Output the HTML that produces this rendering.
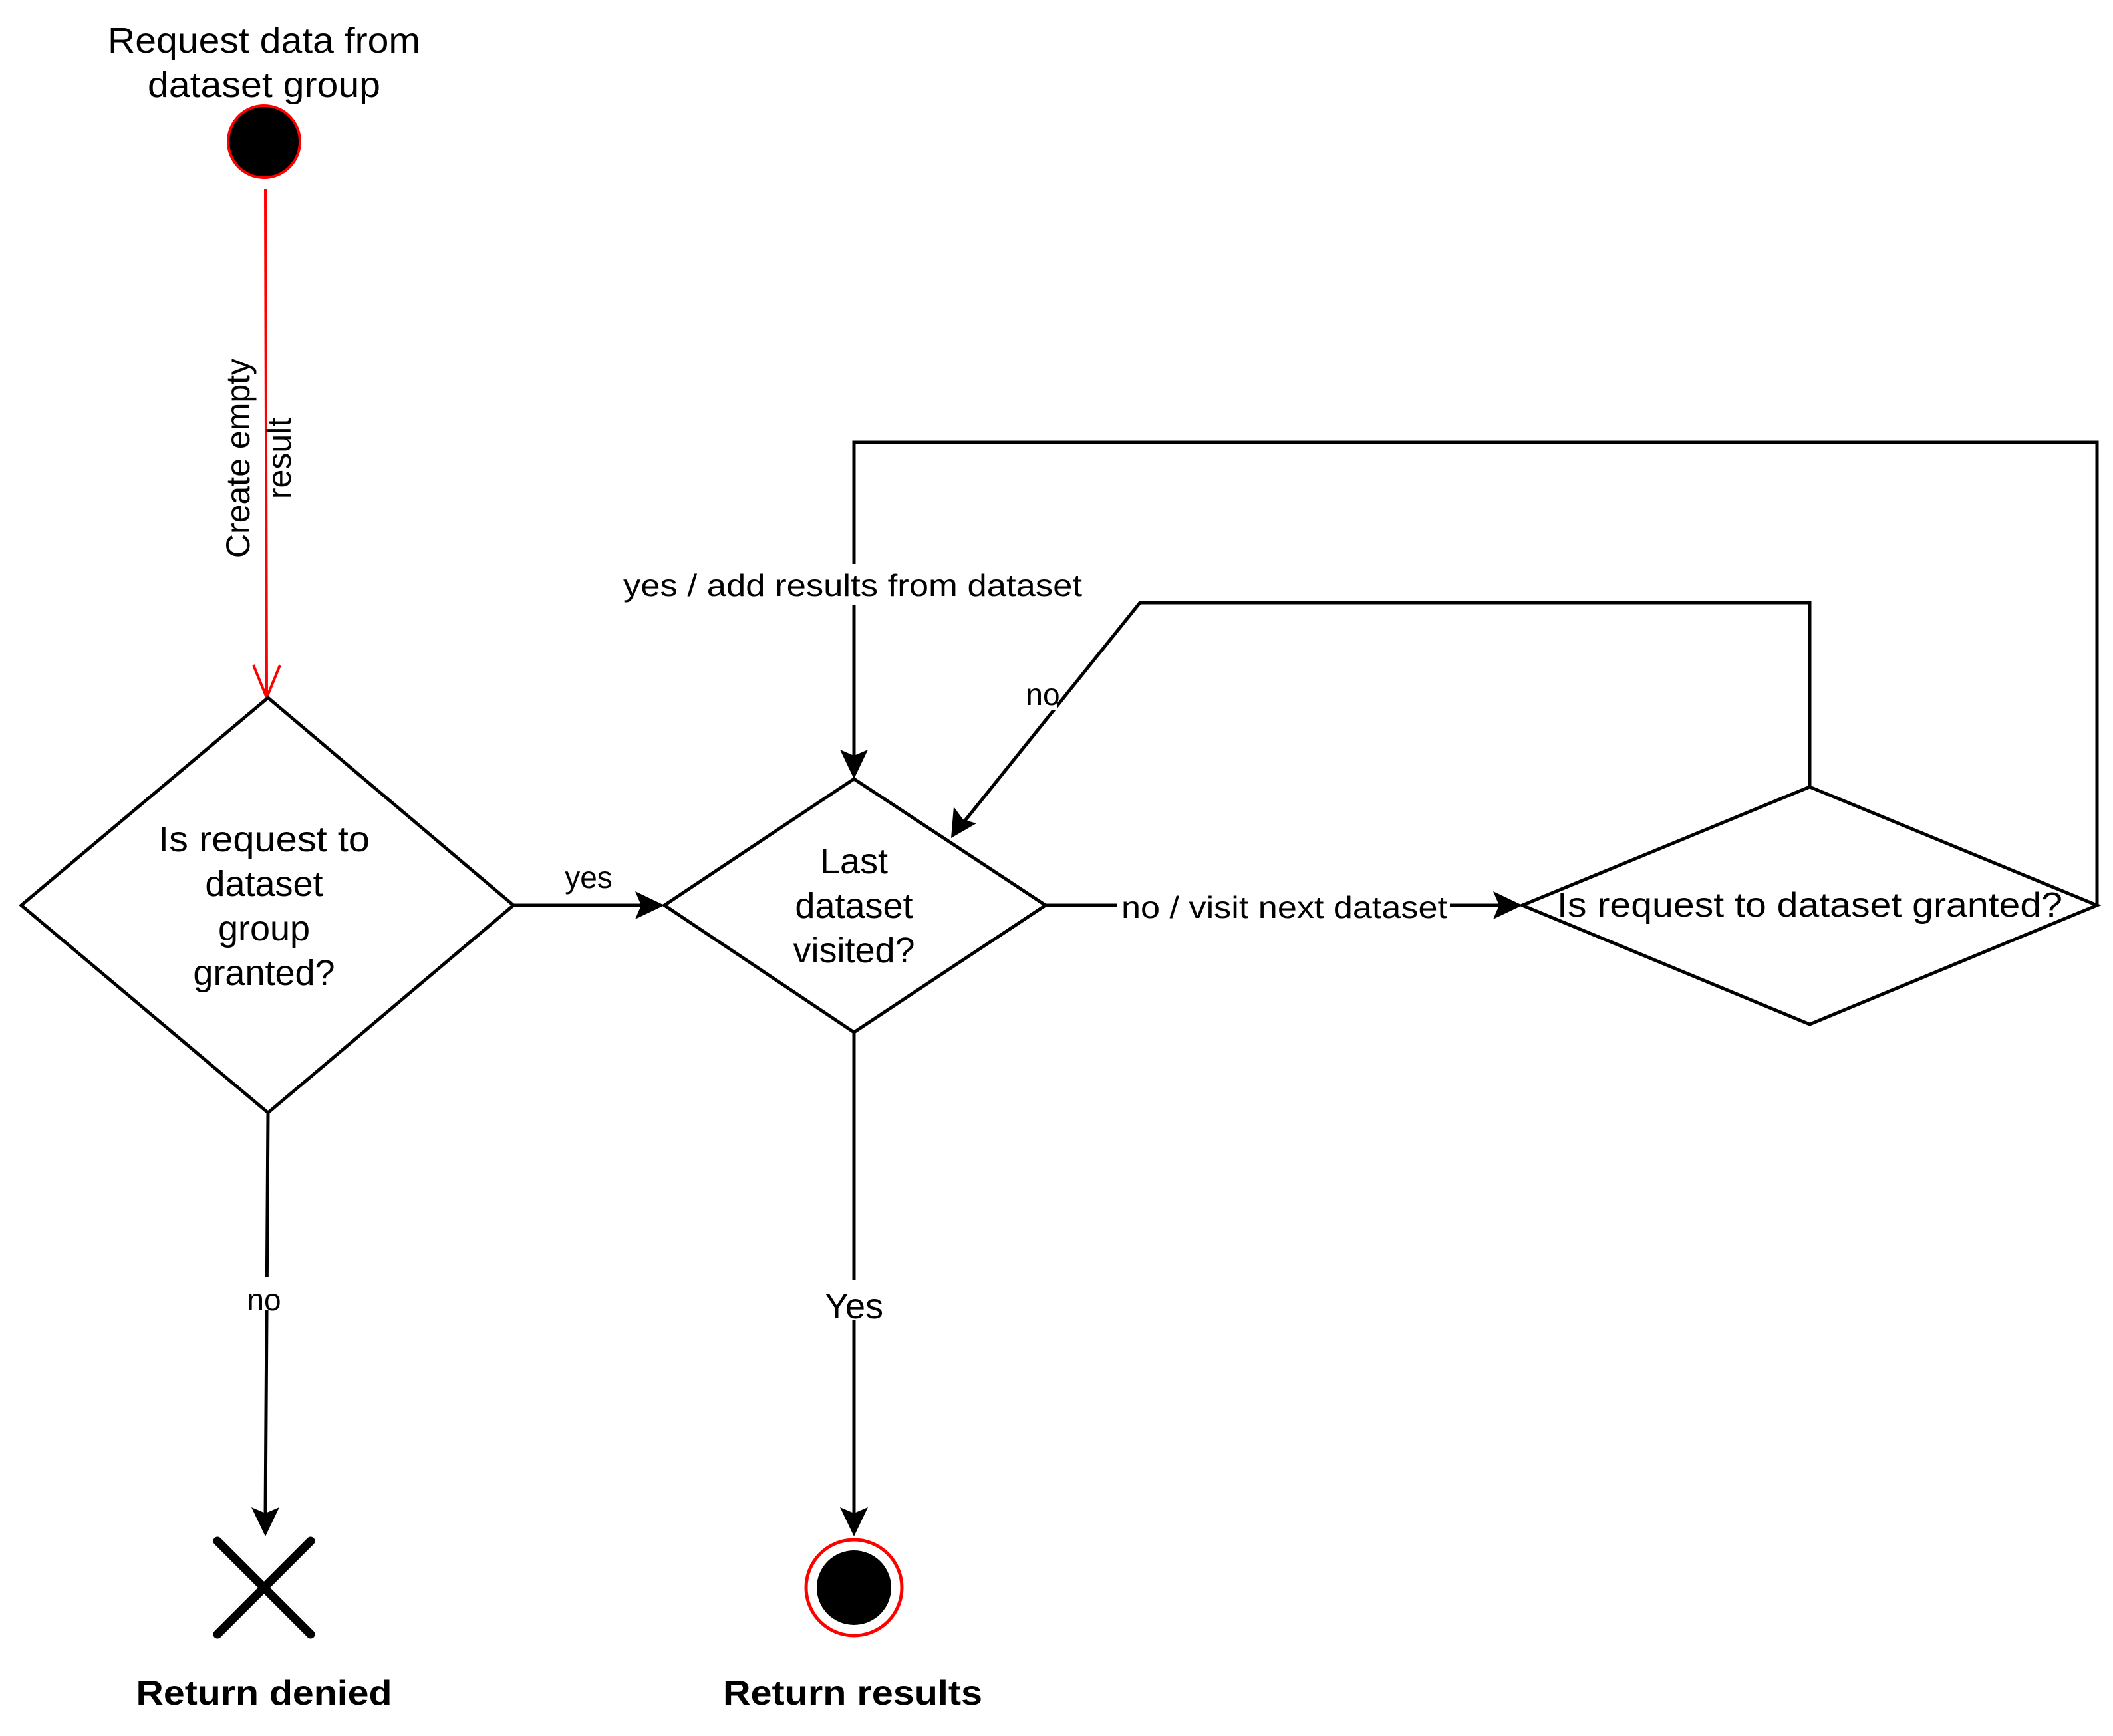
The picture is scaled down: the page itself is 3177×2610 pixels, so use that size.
<!DOCTYPE html>
<html><head><meta charset="utf-8"><style>html,body{margin:0;padding:0;background:#fff}svg{display:block}</style></head>
<body>
<svg width="3177" height="2610" viewBox="0 0 3177 2610" xmlns="http://www.w3.org/2000/svg" font-family="Liberation Sans, sans-serif">
<rect width="3177" height="2610" fill="#fff"/>
<g fill="#000" text-anchor="middle" font-size="54">
<text x="397" y="79" textLength="470" lengthAdjust="spacingAndGlyphs">Request data from</text>
<text x="397" y="146" textLength="350" lengthAdjust="spacingAndGlyphs">dataset group</text>
</g>
<circle cx="397" cy="213" r="54" fill="#000" stroke="#f00" stroke-width="4"/>
<line x1="399" y1="284" x2="401" y2="1049" stroke="#f00" stroke-width="4"/>
<polyline points="381,1000 401,1049 421,1000" fill="none" stroke="#f00" stroke-width="4"/>
<g transform="translate(395,689) rotate(-90)" text-anchor="middle" font-size="50" fill="#000">
<text x="0" y="-20">Create empty</text>
<text x="0" y="42">result</text>
</g>
<g fill="none" stroke="#000" stroke-width="5">
<polygon points="403,1049 772,1361 403,1673 32,1361" fill="#fff"/>
<polygon points="1284,1171 1572,1361 1284,1552 999,1361" fill="#fff"/>
<polygon points="2721,1183 3153,1361 2721,1540 2289,1361" fill="#fff"/>
<line x1="772" y1="1361" x2="970" y2="1361"/>
<line x1="1572" y1="1361" x2="2260" y2="1361"/>
<polyline points="3153,1361 3153,665 1284,665 1284,1140"/>
<polyline points="2721,1183 2721,906 1714,906 1450,1235"/>
<line x1="1284" y1="1552" x2="1284" y2="2280"/>
<line x1="403" y1="1673" x2="399" y2="2280"/>
</g>
<g fill="#000">
<polygon points="999,1361 955,1340 964,1361 955,1382"/>
<polygon points="2289,1361 2245,1340 2254,1361 2245,1382"/>
<polygon points="1284,1171 1263,1127 1284,1136 1305,1127"/>
<polygon points="1430,1260 1434,1213 1448,1232 1468,1238"/>
<polygon points="1284,2310 1263,2266 1284,2275 1305,2266"/>
<polygon points="399,2310 378,2266 399,2275 420,2266"/>
</g>
<rect x="1680" y="1335" width="500" height="56" fill="#fff"/>
<rect x="930" y="848" width="700" height="62" fill="#fff"/>
<rect x="1540" y="1018" width="50" height="50" fill="#fff"/>
<rect x="1240" y="1925" width="90" height="60" fill="#fff"/>
<rect x="360" y="1920" width="80" height="50" fill="#fff"/>
<g fill="#000" text-anchor="middle" font-size="54">
<text x="397" y="1280" textLength="318" lengthAdjust="spacingAndGlyphs">Is request to</text>
<text x="397" y="1347">dataset</text>
<text x="397" y="1414">group</text>
<text x="397" y="1481">granted?</text>
<text x="1284" y="1313">Last</text>
<text x="1284" y="1380">dataset</text>
<text x="1284" y="1447">visited?</text>
<text x="2721" y="1378" font-size="52" textLength="760" lengthAdjust="spacingAndGlyphs">Is request to dataset granted?</text>
<text x="885" y="1335" font-size="46">yes</text>
<text x="1931" y="1380" font-size="46" textLength="490" lengthAdjust="spacingAndGlyphs">no / visit next dataset</text>
<text x="1282" y="896" font-size="46" textLength="690" lengthAdjust="spacingAndGlyphs">yes / add results from dataset</text>
<text x="1568" y="1060" font-size="46">no</text>
<text x="1284" y="1982" font-size="54">Yes</text>
<text x="397" y="1970" font-size="46">no</text>
</g>
<circle cx="1284" cy="2387" r="72" fill="#fff" stroke="#f00" stroke-width="5"/>
<circle cx="1284" cy="2387" r="56" fill="#000"/>
<g stroke="#000" stroke-width="13" stroke-linecap="round">
<line x1="327" y1="2317" x2="467" y2="2457"/>
<line x1="467" y1="2317" x2="327" y2="2457"/>
</g>
<g fill="#000" text-anchor="middle" font-size="52" font-weight="bold">
<text x="397" y="2563" textLength="385" lengthAdjust="spacingAndGlyphs">Return denied</text>
<text x="1282" y="2563" textLength="390" lengthAdjust="spacingAndGlyphs">Return results</text>
</g>
</svg>
</body></html>
